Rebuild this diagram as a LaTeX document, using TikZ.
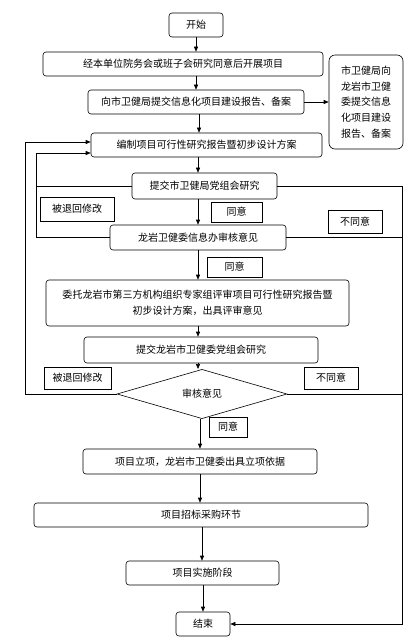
\documentclass[tikz,border=0pt]{standalone}
\usepackage{fontspec}
\setmainfont{Noto Sans CJK SC}
\usetikzlibrary{arrows.meta,shapes.geometric}
\begin{document}
\begin{tikzpicture}[x=1bp,y=-1bp,
 every node/.style={font=\fontsize{10bp}{15.7bp}\selectfont, inner sep=0pt},
 proc/.style={draw, rounded corners=3bp, line width=0.6bp, align=center},
 lab/.style={draw, line width=0.6bp},
 arr/.style={-{Triangle[length=5bp,width=4bp]}, line width=0.6bp},
 ln/.style={line width=0.6bp}]
\useasboundingbox (0,0) rectangle (414,642);
\coordinate (loopA) at (25,0);
\coordinate (loopB) at (36,0);
\coordinate (loopR) at (402,0);
% process boxes
\node[proc, minimum width=54bp, minimum height=24bp] (start) at (196,25) {开始};
\node[proc, minimum width=280bp, minimum height=24bp] (n1) at (183,64) {经本单位院务会或班子会研究同意后开展项目};
\node[proc, minimum width=216bp, minimum height=24bp] (n2) at (196,102) {向市卫健局提交信息化项目建设报告、备案};
\node[proc, rounded corners=6bp, minimum width=74bp, minimum height=94bp] (side) at (366,102) {市卫健局向\\龙岩市卫健\\委提交信息\\化项目建设\\报告、备案};
\node[proc, minimum width=231bp, minimum height=24bp] (n3) at (206.5,145) {编制项目可行性研究报告暨初步设计方案};
\node[proc, minimum width=145bp, minimum height=26bp] (n4) at (204.5,186) {提交市卫健局党组会研究};
\node[proc, minimum width=176bp, minimum height=25bp] (n5) at (198,237.5) {龙岩卫健委信息办审核意见};
\node[proc, minimum width=303bp, minimum height=46bp] (n6) at (197.5,303) {委托龙岩市第三方机构组织专家组评审项目可行性研究报告暨\\初步设计方案，出具评审意见};
\node[proc, minimum width=234bp, minimum height=26bp] (n7) at (201,350) {提交龙岩市卫健委党组会研究};
\node[draw, diamond, line width=0.6bp, minimum width=170bp, minimum height=40bp] (dia) at (202,394) {审核意见};
\node[proc, minimum width=234bp, minimum height=25bp] (n8) at (200,461.5) {项目立项，龙岩市卫健委出具立项依据};
\node[proc, minimum width=334bp, minimum height=24bp] (n9) at (201,515) {项目招标采购环节};
\node[proc, minimum width=153bp, minimum height=24bp] (n10) at (202.5,573) {项目实施阶段};
\node[proc, minimum width=54bp, minimum height=24bp] (end) at (203,624) {结束};
% label boxes
\node[lab, minimum width=74bp, minimum height=24bp] (l1) at (77,209) {被退回修改};
\node[lab, minimum width=51bp, minimum height=20bp] (l2) at (236.5,212) {同意};
\node[lab, minimum width=54bp, minimum height=23bp] (l3) at (355,221.5) {不同意};
\node[lab, minimum width=55bp, minimum height=20bp] (l4) at (234.5,267) {同意};
\node[lab, minimum width=67bp, minimum height=22bp] (l5) at (77.5,378) {被退回修改};
\node[lab, minimum width=54bp, minimum height=22bp] (l6) at (331,378) {不同意};
\node[lab, minimum width=38bp, minimum height=20bp] (l7) at (228,427) {同意};
% main flow
\draw[arr] (start.south) -- (start.south |- n1.north);
\draw[arr] (start.south |- n1.south) -- (start.south |- n2.north);
\draw[arr] (n2.south -| 199,0) -- (n3.north -| 199,0);
\draw[arr] (n2.east) -- (side.west |- n2.east);
\draw[arr] (n3.south -| 198,0) -- (n4.north -| 198,0);
\draw[arr] (n4.south -| 198,0) -- (n5.north -| 198,0);
\draw[arr] (n5.south -| 198,0) -- (n6.north -| 198,0);
\draw[arr] (n6.south -| 198,0) -- (n7.north -| 198,0);
\draw[arr] (n7.south -| 198,0) -- (dia.north -| 198,0);
\draw[arr] (dia.south -| 200,0) -- (n8.north -| 200,0);
\draw[arr] (n8.south -| 200,0) -- (n9.north -| 200,0);
\draw[arr] (n9.south -| 202,0) -- (n10.north -| 202,0);
\draw[arr] (n10.south -| 203,0) -- (end.north);
% return loops
\draw[arr] (dia.west) -- (dia.west -| loopA) |- ([yshift=3bp]n3.west);
\draw[ln] (n4.west) -- (n4.west -| loopB);
\draw[arr] (n5.west) -- (n5.west -| loopB) |- ([yshift=-8bp]n3.west);
% disagree path
\draw[ln] (n4.east) -- (n4.east -| loopR);
\draw[ln] (n5.east) -- (n5.east -| loopR);
\draw[ln] (n4.east -| loopR) -- (dia.east -| loopR);
\draw[arr] (dia.east) -- (dia.east -| loopR) |- (end.east);
\end{tikzpicture}
\end{document}
